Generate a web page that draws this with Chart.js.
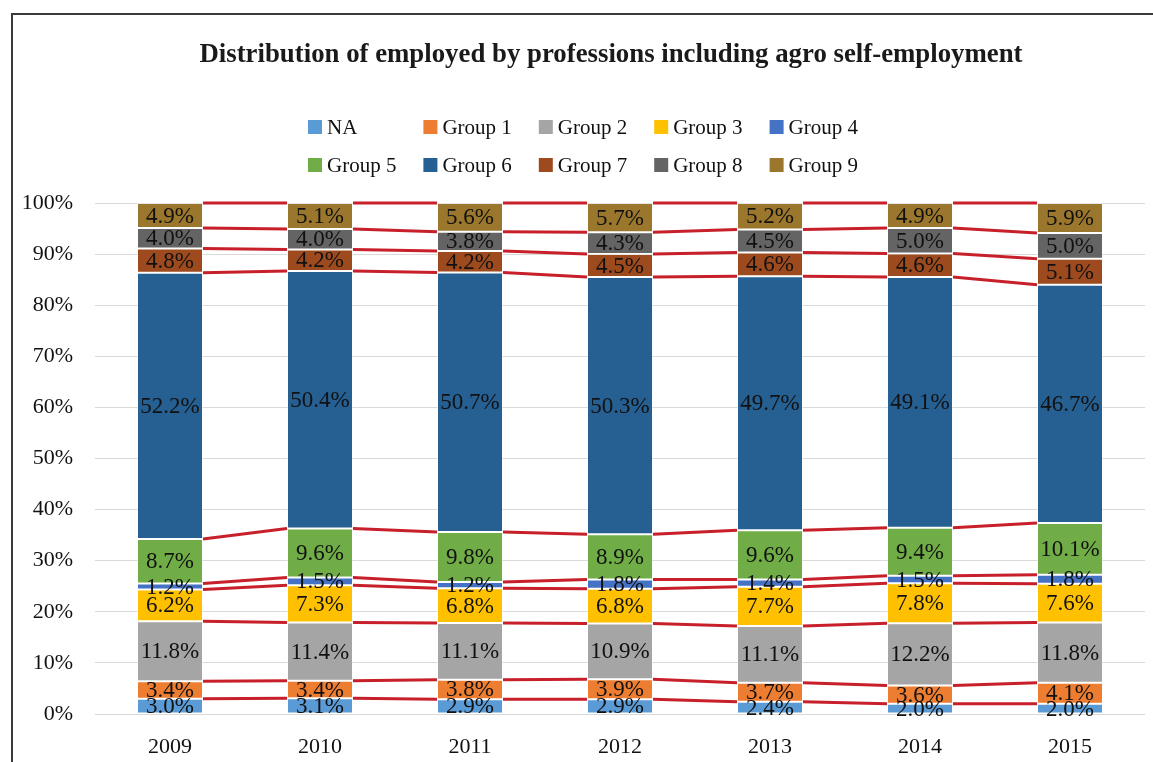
<!DOCTYPE html>
<html>
<head>
<meta charset="utf-8">
<script src="https://cdn.jsdelivr.net/npm/chart.js@4"></script>
<style>
  html, body { margin: 0; padding: 0; background: #fff; }
  #wrap { position: relative; width: 1153px; height: 762px; }
</style>
</head>
<body>
<div id="wrap"><canvas id="myChart" width="1153" height="762"></canvas></div>
<script>
// values (share of employed, %)
var years = ['2009', '2010', '2011', '2012', '2013', '2014', '2015'];
var groupNames = ['NA', 'Group 1', 'Group 2', 'Group 3', 'Group 4', 'Group 5', 'Group 6', 'Group 7', 'Group 8', 'Group 9'];
var na     = [3.0, 3.1, 2.9, 2.9, 2.4, 2.0, 2.0];
var group1 = [3.4, 3.4, 3.8, 3.9, 3.7, 3.6, 4.1];
var group2 = [11.8, 11.4, 11.1, 10.9, 11.1, 12.2, 11.8];
var group3 = [6.2, 7.3, 6.8, 6.8, 7.7, 7.8, 7.6];
var group4 = [1.2, 1.5, 1.2, 1.8, 1.4, 1.5, 1.8];
var group5 = [8.7, 9.6, 9.8, 8.9, 9.6, 9.4, 10.1];
var group6 = [52.2, 50.4, 50.7, 50.3, 49.7, 49.1, 46.7];
var group7 = [4.8, 4.2, 4.2, 4.5, 4.6, 4.6, 5.1];
var group8 = [4.0, 4.0, 3.8, 4.3, 4.5, 5.0, 5.0];
var group9 = [4.9, 5.1, 5.6, 5.7, 5.2, 4.9, 5.9];
var yTicks = [0, 10, 20, 30, 40, 50, 60, 70, 80, 90, 100];

var series = [na, group1, group2, group3, group4, group5, group6, group7, group8, group9];
var colors = ['#5B9BD5', '#ED7D31', '#A5A5A5', '#FFC000', '#4472C4', '#70AD47', '#265F92', '#9D4A1E', '#646464', '#9A772C'];
var serif = '"Liberation Serif", "DejaVu Serif", serif';

// 100% stacked: scale each year to its total
var totals = years.map(function (y, i) {
  return series.reduce(function (s, arr) { return s + arr[i]; }, 0);
});

var datasets = series.map(function (arr, k) {
  return {
    label: groupNames[k],
    raw: arr,
    data: arr.map(function (v, i) { return v / totals[i] * 100; }),
    backgroundColor: colors[k],
    borderColor: 'rgba(255,255,255,0.4)',
    borderWidth: 1,
    borderSkipped: false,
    categoryPercentage: 1.0,
    barPercentage: 0.44
  };
});

// frame, title and legend grid
var decor = {
  id: 'decor',
  beforeDraw: function (chart) {
    var c = chart.ctx;
    c.save();
    c.fillStyle = '#fff';
    c.fillRect(0, 0, chart.width, chart.height);
    c.strokeStyle = '#3a3a3a';
    c.lineWidth = 2;
    c.beginPath();
    c.moveTo(1153, 14);
    c.lineTo(12, 14);
    c.lineTo(12, 762);
    c.stroke();

    var title = 'Distribution of employed by professions including agro self-employment';
    c.font = 'bold 24px ' + serif;
    var w = c.measureText(title).width;
    var size = 24 * 822 / w;
    c.font = 'bold ' + size.toFixed(1) + 'px ' + serif;
    c.fillStyle = '#1a1a1a';
    c.textAlign = 'center';
    c.textBaseline = 'middle';
    c.fillText(title, 611, 55);

    c.font = '21px ' + serif;
    c.textAlign = 'left';
    groupNames.forEach(function (name, k) {
      var col = k % 5, row = Math.floor(k / 5);
      var x = 308 + col * 115.4;
      var y = 127 + row * 38;
      c.fillStyle = colors[k];
      c.fillRect(x, y - 7, 14, 14);
      c.fillStyle = '#111';
      c.fillText(name, x + 19, y + 1);
    });
    c.restore();
  }
};

// red series lines between bars and value labels
var seriesLines = {
  id: 'seriesLines',
  afterDatasetsDraw: function (chart) {
    var c = chart.ctx;
    c.save();
    c.strokeStyle = '#C8202A';
    c.lineWidth = 3;
    chart.data.datasets.forEach(function (ds, k) {
      var bars = chart.getDatasetMeta(k).data;
      for (var i = 0; i < bars.length - 1; i++) {
        var a = bars[i], b = bars[i + 1];
        c.beginPath();
        c.moveTo(a.x + a.width / 2, a.y);
        c.lineTo(b.x - b.width / 2, b.y);
        c.stroke();
      }
    });
    c.font = '23px ' + serif;
    c.fillStyle = '#111';
    c.textAlign = 'center';
    c.textBaseline = 'middle';
    chart.data.datasets.forEach(function (ds, k) {
      var bars = chart.getDatasetMeta(k).data;
      bars.forEach(function (bar, i) {
        c.fillText(ds.raw[i].toFixed(1) + '%', bar.x, (bar.y + bar.base) / 2 + 1);
      });
    });
    c.restore();
  }
};

var ctx = document.getElementById('myChart').getContext('2d');
var chart = new Chart(ctx, {
  type: 'bar',
  data: { labels: years, datasets: datasets },
  options: {
    responsive: false,
    animation: false,
    layout: { padding: { left: 0, right: 8, top: 203, bottom: 0 } },
    plugins: {
      legend: { display: false },
      title: { display: false },
      tooltip: { enabled: false }
    },
    scales: {
      x: {
        stacked: true,
        grid: { display: false, drawTicks: false },
        border: { display: false },
        ticks: { color: '#111', font: { family: serif, size: 22 }, padding: 20 },
        afterFit: function (s) { s.height = 48; }
      },
      y: {
        stacked: true,
        min: 0,
        max: 100,
        afterBuildTicks: function (s) { s.ticks = yTicks.map(function (v) { return { value: v }; }); },
        grid: { color: '#D9D9D9', lineWidth: 1, drawTicks: false },
        border: { display: false },
        ticks: {
          color: '#111',
          font: { family: serif, size: 22 },
          padding: 22,
          callback: function (v) { return v + '%'; }
        },
        afterFit: function (s) { s.width = 95; }
      }
    }
  },
  plugins: [decor, seriesLines]
});
</script>
</body>
</html>
